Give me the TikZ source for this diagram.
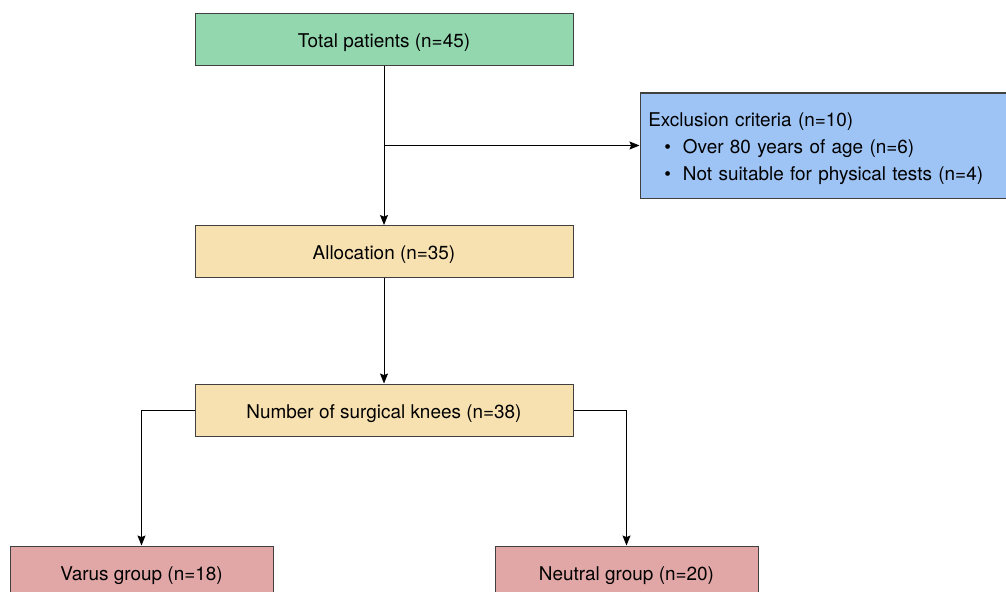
\documentclass[tikz,border=0pt]{standalone}
\usepackage{fontspec}
\setmainfont{TeX Gyre Heros}
\usetikzlibrary{arrows.meta}

\definecolor{totalgreen}{RGB}{147,215,175}
\definecolor{exclblue}{RGB}{158,196,245}
\definecolor{stepyellow}{RGB}{248,225,177}
\definecolor{grouppink}{RGB}{224,167,166}

\begin{document}
\begin{tikzpicture}[x=0.75pt,y=-0.75pt,
  flowbox/.style={draw=black!75,line width=0.75pt,inner sep=0pt,minimum height=39pt,font=\fontsize{14.2}{17}\selectfont},
  widebox/.style={flowbox,minimum width=283.5pt,text height=12.5pt,text depth=0pt},
  groupbox/.style={flowbox,minimum width=197.25pt,fill=grouppink,text height=12.5pt,text depth=0pt},
  link/.style={line width=0.75pt,-{Stealth[length=7.5pt,width=6pt,inset=1.2pt]}}]
\useasboundingbox (0,0) rectangle (1006,592);
\node[widebox,fill=totalgreen] (total) at (384,39.5) {Total patients (n=45)};
\node[flowbox,fill=exclblue,minimum width=274.5pt,minimum height=78.75pt,
  text width=262pt,align=left,inner xsep=6pt] (excl) at (823,145.5)
  {\rule{0pt}{15pt}Exclusion criteria (n=10)\\[3pt]
   \hspace*{12pt}\textbullet\hspace{9pt}Over 80 years of age (n=6)\\[3pt]
   \hspace*{12pt}\textbullet\hspace{9pt}Not suitable for physical tests (n=4)};
\node[widebox,fill=stepyellow] (alloc) at (384,251.5) {Allocation (n=35)};
\node[widebox,fill=stepyellow] (knees) at (384,410) {Number of surgical knees (n=38)};
\node[groupbox] (varus) at (141.5,572) {Varus group (n=18)};
\node[groupbox] (neutral) at (626.5,572) {Neutral group (n=20)};
% connectors
\draw[link] (total.south) -- (alloc.north);
\draw[link] (total.south |- excl.west) -- (excl.west);
\draw[link] (alloc.south) -- (knees.north);
\draw[link] (knees.west) -| (varus.north);
\draw[link] (knees.east) -| (neutral.north);
\end{tikzpicture}
\end{document}
